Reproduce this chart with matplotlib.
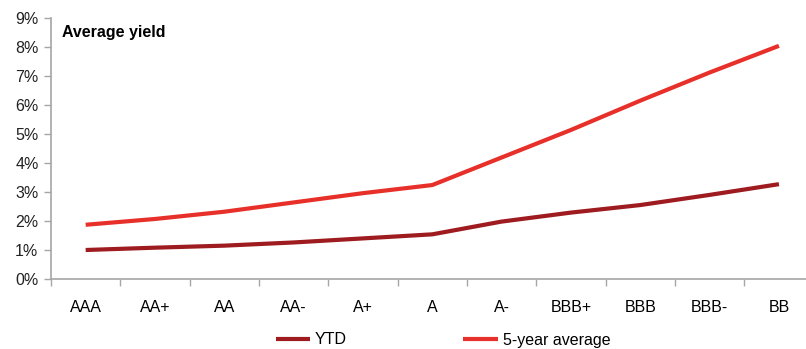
import matplotlib
matplotlib.use('Agg')
import matplotlib.pyplot as plt
import numpy as np
from matplotlib.ticker import FuncFormatter, FixedLocator

# ratings on the x axis
ratings = ['AAA', 'AA+', 'AA', 'AA-', 'A+', 'A', 'A-', 'BBB+', 'BBB', 'BBB-', 'BB']
# average yield in %
ytd = [1.00, 1.08, 1.15, 1.26, 1.40, 1.54, 1.98, 2.29, 2.55, 2.90, 3.27]
five_year = [1.87, 2.07, 2.32, 2.64, 2.96, 3.24, 4.19, 5.14, 6.15, 7.12, 8.04]

plt.rcParams['font.family'] = ['Liberation Sans', 'DejaVu Sans']

W, H = 806, 349
fig = plt.figure(figsize=(W / 100, H / 100), dpi=100)
# axis runs slightly past the right edge, like the cropped original
ax = fig.add_axes([51 / W, 70 / H, 762.6 / W, 261 / H])

x = np.arange(len(ratings))
ax.plot(x, ytd, color='#9E1B20', lw=3, solid_capstyle='butt', label='YTD')
ax.plot(x, five_year, color='#E8302A', lw=3, solid_capstyle='butt', label='5-year average')

ax.set_xlim(-0.5, len(ratings) - 0.5)
ax.set_ylim(0, 9)
ax.set_yticks(range(0, 10))
ax.yaxis.set_major_formatter(FuncFormatter(lambda v, p: f'{int(v)}%'))

ax.set_xticks(x)
ax.set_xticklabels(ratings)
ax.xaxis.set_minor_locator(FixedLocator(np.arange(-0.5, len(ratings), 1.0)))
ax.tick_params(axis='x', which='major', length=0, pad=15, labelsize=11.5, colors='#000000')
ax.tick_params(axis='x', which='minor', length=5, width=1, color='#A6A6A6')
ax.tick_params(axis='y', length=5, width=1, color='#A6A6A6', labelsize=11.5, labelcolor='#222222', pad=4)

for s in ['top', 'right']:
    ax.spines[s].set_visible(False)
for s in ['left', 'bottom']:
    ax.spines[s].set_color('#A6A6A6')
    ax.spines[s].set_linewidth(1.2)

fig.text(62 / W, 1 - 33 / H, 'Average yield', fontsize=11.5,
         fontweight='bold', va='center', ha='left')

fig.legend(loc='center', bbox_to_anchor=(443 / W, 9 / H), ncol=2, frameon=False,
           fontsize=11.5, handlelength=2.15, handletextpad=0.3, columnspacing=7.3)

fig.savefig('out.png', dpi=100)
